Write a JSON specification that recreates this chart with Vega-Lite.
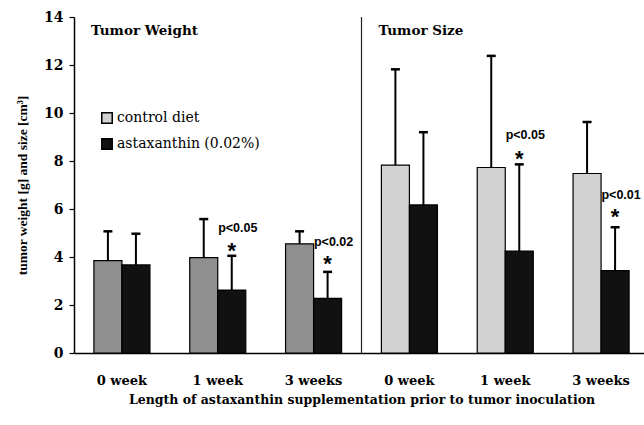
{
"$schema":"https://vega.github.io/schema/vega-lite/v6.json",
"width":575,"height":336,
"autosize":{"type":"none"},
"padding":{"left":74,"top":17,"right":0,"bottom":72},
"background":"white",
"config":{
 "view":{"stroke":null},
 "axis":{"domainColor":"black","tickColor":"black","labelColor":"black","titleColor":"black","domainWidth":1.5,"tickWidth":1.2,"grid":false},
 "axisX":{"labelAngle":0,"labelFont":"DejaVu Serif","labelFontWeight":"bold","labelFontSize":13,"labelPadding":21,"ticks":false,"titleFont":"DejaVu Serif","titleFontWeight":"bold","titleFontSize":12.5,"titlePadding":6},
 "axisY":{"labelFont":"DejaVu Serif","labelFontWeight":"bold","labelFontSize":14,"tickSize":5,"labelPadding":6,"titleFont":"Liberation Serif","titleFontWeight":"bold","titleFontSize":13.5,"titlePadding":14}
},
"datasets":{
 "bars":[
  {"grp":"W0","diet":"control diet","value":3.85,"upper":5.07},
  {"grp":"W0","diet":"astaxanthin (0.02%)","value":3.67,"upper":4.97},
  {"grp":"W1","diet":"control diet","value":3.97,"upper":5.58},
  {"grp":"W1","diet":"astaxanthin (0.02%)","value":2.62,"upper":4.05},
  {"grp":"W3","diet":"control diet","value":4.55,"upper":5.07},
  {"grp":"W3","diet":"astaxanthin (0.02%)","value":2.28,"upper":3.38},
  {"grp":"S0","diet":"control diet","value":7.83,"upper":11.82},
  {"grp":"S0","diet":"astaxanthin (0.02%)","value":6.17,"upper":9.2},
  {"grp":"S1","diet":"control diet","value":7.73,"upper":12.38},
  {"grp":"S1","diet":"astaxanthin (0.02%)","value":4.25,"upper":7.86},
  {"grp":"S3","diet":"control diet","value":7.48,"upper":9.63},
  {"grp":"S3","diet":"astaxanthin (0.02%)","value":3.43,"upper":5.24}
 ],
 "ann":[
  {"grp":"W1","diet":"astaxanthin (0.02%)","p":"p<0.05","py":5.2,"sy":4.45},
  {"grp":"W3","diet":"astaxanthin (0.02%)","p":"p<0.02","py":4.63,"sy":3.9},
  {"grp":"S1","diet":"astaxanthin (0.02%)","p":"p<0.05","py":9.1,"sy":8.3},
  {"grp":"S3","diet":"astaxanthin (0.02%)","p":"p<0.01","py":6.6,"sy":5.88}
 ],
 "panels":[{"grp":"W0","t":"Tumor Weight"},{"grp":"S0","t":"Tumor Size"}],
 "divider":[{"grp":"S0"}]
},
"layer":[
 {"data":{"name":"bars"},
  "mark":{"type":"bar","stroke":"black","strokeWidth":1.2},
  "encoding":{
   "x":{"field":"grp","type":"nominal","sort":["W0","W1","W3","S0","S1","S3"],"scale":{"domain":["W0","W1","W3","S0","S1","S3"],"paddingInner":0,"paddingOuter":0},"axis":{"labelExpr":"datum.value[1] == '0' ? '0 week' : datum.value[1] == '1' ? '1 week' : '3 weeks'"},"title":"Length of astaxanthin supplementation prior to tumor inoculation"},
   "xOffset":{"field":"diet","type":"nominal","sort":["control diet","astaxanthin (0.02%)"],"scale":{"domain":["control diet","astaxanthin (0.02%)"],"paddingInner":0,"paddingOuter":0.71}},
   "y":{"field":"value","type":"quantitative","scale":{"domain":[0,14]},"axis":{"values":[0,2,4,6,8,10,12,14]},"title":"tumor weight [g] and size [cm³]"},
   "color":{"condition":{"test":"datum.diet == 'control diet' && indexof(['W0','W1','W3'], datum.grp) >= 0","value":"#8f8f8f"},
    "field":"diet","type":"nominal","sort":["control diet","astaxanthin (0.02%)"],
    "scale":{"domain":["control diet","astaxanthin (0.02%)"],"range":["#d2d2d2","#111111"]},
    "legend":{"orient":"none","legendX":26,"legendY":94,"title":null,"symbolType":"square","symbolSize":110,"symbolStrokeColor":"black","symbolStrokeWidth":1.5,"labelFont":"DejaVu Serif","labelFontSize":14,"labelColor":"black","rowPadding":8,"labelOffset":3,"padding":0}}
  }},
 {"data":{"name":"bars"},
  "mark":{"type":"rule","color":"black","strokeWidth":2},
  "encoding":{
   "x":{"field":"grp","type":"nominal","sort":["W0","W1","W3","S0","S1","S3"],"scale":{"domain":["W0","W1","W3","S0","S1","S3"],"paddingInner":0,"paddingOuter":0},"axis":{"labelExpr":"datum.value[1] == '0' ? '0 week' : datum.value[1] == '1' ? '1 week' : '3 weeks'"},"title":"Length of astaxanthin supplementation prior to tumor inoculation"},
   "xOffset":{"field":"diet","type":"nominal","sort":["control diet","astaxanthin (0.02%)"],"scale":{"domain":["control diet","astaxanthin (0.02%)"],"paddingInner":0,"paddingOuter":0.71}},
   "y":{"field":"value","type":"quantitative","scale":{"domain":[0,14]},"axis":{"values":[0,2,4,6,8,10,12,14]},"title":"tumor weight [g] and size [cm³]"},
   "y2":{"field":"upper"}
  }},
 {"data":{"name":"bars"},
  "mark":{"type":"tick","color":"black","thickness":2.5,"size":9,"opacity":1},
  "encoding":{
   "x":{"field":"grp","type":"nominal","sort":["W0","W1","W3","S0","S1","S3"],"scale":{"domain":["W0","W1","W3","S0","S1","S3"],"paddingInner":0,"paddingOuter":0},"axis":{"labelExpr":"datum.value[1] == '0' ? '0 week' : datum.value[1] == '1' ? '1 week' : '3 weeks'"},"title":"Length of astaxanthin supplementation prior to tumor inoculation"},
   "xOffset":{"field":"diet","type":"nominal","sort":["control diet","astaxanthin (0.02%)"],"scale":{"domain":["control diet","astaxanthin (0.02%)"],"paddingInner":0,"paddingOuter":0.71}},
   "y":{"field":"upper","type":"quantitative","scale":{"domain":[0,14]},"axis":{"values":[0,2,4,6,8,10,12,14]},"title":"tumor weight [g] and size [cm³]"}
  }},
 {"data":{"name":"ann"},
  "mark":{"type":"text","font":"Liberation Sans","fontWeight":"bold","fontSize":12.5,"dx":6,"baseline":"middle","color":"black"},
  "encoding":{
   "x":{"field":"grp","type":"nominal","sort":["W0","W1","W3","S0","S1","S3"],"scale":{"domain":["W0","W1","W3","S0","S1","S3"],"paddingInner":0,"paddingOuter":0},"axis":{"labelExpr":"datum.value[1] == '0' ? '0 week' : datum.value[1] == '1' ? '1 week' : '3 weeks'"},"title":"Length of astaxanthin supplementation prior to tumor inoculation"},
   "xOffset":{"field":"diet","type":"nominal","sort":["control diet","astaxanthin (0.02%)"],"scale":{"domain":["control diet","astaxanthin (0.02%)"],"paddingInner":0,"paddingOuter":0.71}},
   "y":{"field":"py","type":"quantitative","scale":{"domain":[0,14]},"axis":{"values":[0,2,4,6,8,10,12,14]},"title":"tumor weight [g] and size [cm³]"},
   "text":{"field":"p"}
  }},
 {"data":{"name":"ann"},
  "mark":{"type":"text","text":"*","font":"Liberation Sans","fontWeight":"bold","fontSize":22,"dy":12,"baseline":"alphabetic","color":"black"},
  "encoding":{
   "x":{"field":"grp","type":"nominal","sort":["W0","W1","W3","S0","S1","S3"],"scale":{"domain":["W0","W1","W3","S0","S1","S3"],"paddingInner":0,"paddingOuter":0},"axis":{"labelExpr":"datum.value[1] == '0' ? '0 week' : datum.value[1] == '1' ? '1 week' : '3 weeks'"},"title":"Length of astaxanthin supplementation prior to tumor inoculation"},
   "xOffset":{"field":"diet","type":"nominal","sort":["control diet","astaxanthin (0.02%)"],"scale":{"domain":["control diet","astaxanthin (0.02%)"],"paddingInner":0,"paddingOuter":0.71}},
   "y":{"field":"sy","type":"quantitative","scale":{"domain":[0,14]},"axis":{"values":[0,2,4,6,8,10,12,14]},"title":"tumor weight [g] and size [cm³]"}
  }},
 {"data":{"name":"divider"},
  "mark":{"type":"rule","color":"#222222","strokeWidth":1.2},
  "encoding":{
   "x":{"field":"grp","type":"nominal","bandPosition":0,"sort":["W0","W1","W3","S0","S1","S3"],"scale":{"domain":["W0","W1","W3","S0","S1","S3"],"paddingInner":0,"paddingOuter":0},"axis":{"labelExpr":"datum.value[1] == '0' ? '0 week' : datum.value[1] == '1' ? '1 week' : '3 weeks'"},"title":"Length of astaxanthin supplementation prior to tumor inoculation"}
  }},
 {"data":{"name":"panels"},
  "mark":{"type":"text","font":"DejaVu Serif","fontWeight":"bold","fontSize":13.5,"align":"left","baseline":"middle","dx":17,"color":"black"},
  "encoding":{
   "x":{"field":"grp","type":"nominal","bandPosition":0,"sort":["W0","W1","W3","S0","S1","S3"],"scale":{"domain":["W0","W1","W3","S0","S1","S3"],"paddingInner":0,"paddingOuter":0},"axis":{"labelExpr":"datum.value[1] == '0' ? '0 week' : datum.value[1] == '1' ? '1 week' : '3 weeks'"},"title":"Length of astaxanthin supplementation prior to tumor inoculation"},
   "y":{"datum":13.4,"type":"quantitative","scale":{"domain":[0,14]},"axis":{"values":[0,2,4,6,8,10,12,14]},"title":"tumor weight [g] and size [cm³]"},
   "text":{"field":"t"}
  }}
]
}
